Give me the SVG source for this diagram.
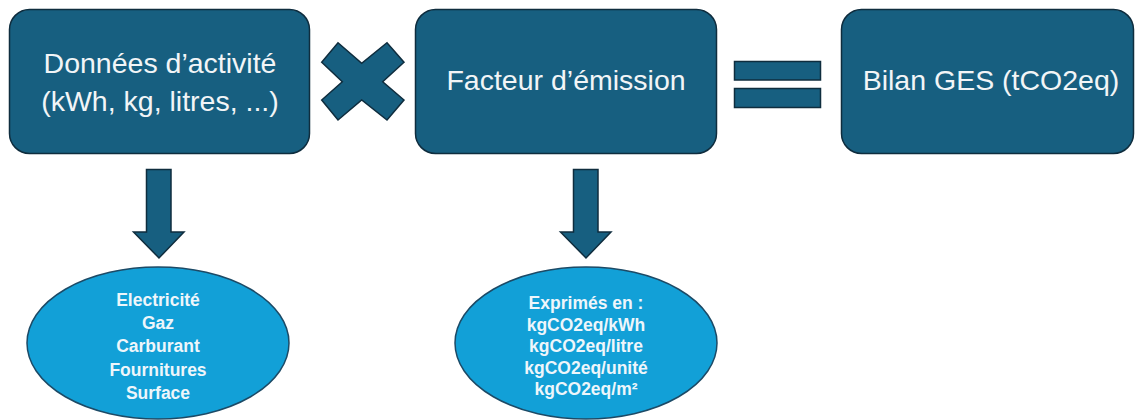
<svg xmlns="http://www.w3.org/2000/svg" width="1135" height="420" viewBox="0 0 1135 420">
<style>
.box{fill:#175F80;stroke:#0F2D3E;stroke-width:1.5}
.sym{fill:#175F80;stroke:#0F2D3E;stroke-width:1.5}
.ell{fill:#12A0D7;stroke:#1C4A66;stroke-width:1.5}
.t1{font-family:"Liberation Sans",Arial,sans-serif;font-size:28.5px;fill:#F2F5F7;text-anchor:middle}
.t2{font-family:"Liberation Sans",Arial,sans-serif;font-size:17.5px;font-weight:bold;fill:#EEF6FB;text-anchor:middle}
</style>
<rect width="1135" height="420" fill="#FFFFFF"/>
<g id="donnees">
<rect class="box" x="9.5" y="9.5" width="300" height="144" rx="20"/>
<text class="t1" x="160" y="73">Données d’activité</text>
<text class="t1" x="160" y="111">(kWh, kg, litres, ...)</text>
</g>
<g id="facteur">
<rect class="box" x="415.5" y="9.5" width="301" height="144" rx="20"/>
<text class="t1" x="566" y="90">Facteur d’émission</text>
</g>
<g id="bilan">
<rect class="box" x="841.5" y="9.5" width="292" height="144" rx="20"/>
<text class="t1" x="991" y="90">Bilan GES (tCO2eq)</text>
</g>
<g id="multiply">
<polygon class="sym" points="321.7,62.3 338,42.7 361.7,63.3 387,42.7 404,62.3 382.7,81.7 404,100 387,120 361.7,100 338,120 321.7,100 342.3,81.7"/>
</g>
<g id="equals">
<rect class="sym" x="734.5" y="61.5" width="86" height="18.5"/>
<rect class="sym" x="734.5" y="88.5" width="86" height="19"/>
</g>
<g id="connectors">
<polygon class="sym" points="146.5,169.5 171,169.5 171,232 184,232 159,258 133.5,232 146.5,232"/>
<polygon class="sym" points="573.5,169.5 598,169.5 598,232 611,232 586,258 560.5,232 573.5,232"/>
</g>
<g id="sources">
<ellipse class="ell" cx="158" cy="343" rx="131" ry="76"/>
<text class="t2" x="158" y="306">Electricité</text>
<text class="t2" x="158" y="329">Gaz</text>
<text class="t2" x="158" y="352">Carburant</text>
<text class="t2" x="158" y="376">Fournitures</text>
<text class="t2" x="158" y="399">Surface</text>
</g>
<g id="unites">
<ellipse class="ell" cx="586" cy="343" rx="131" ry="76"/>
<text class="t2" x="586" y="309">Exprimés en :</text>
<text class="t2" x="586" y="331">kgCO2eq/kWh</text>
<text class="t2" x="586" y="352">kgCO2eq/litre</text>
<text class="t2" x="586" y="374">kgCO2eq/unité</text>
<text class="t2" x="586" y="395">kgCO2eq/m²</text>
</g>
</svg>
